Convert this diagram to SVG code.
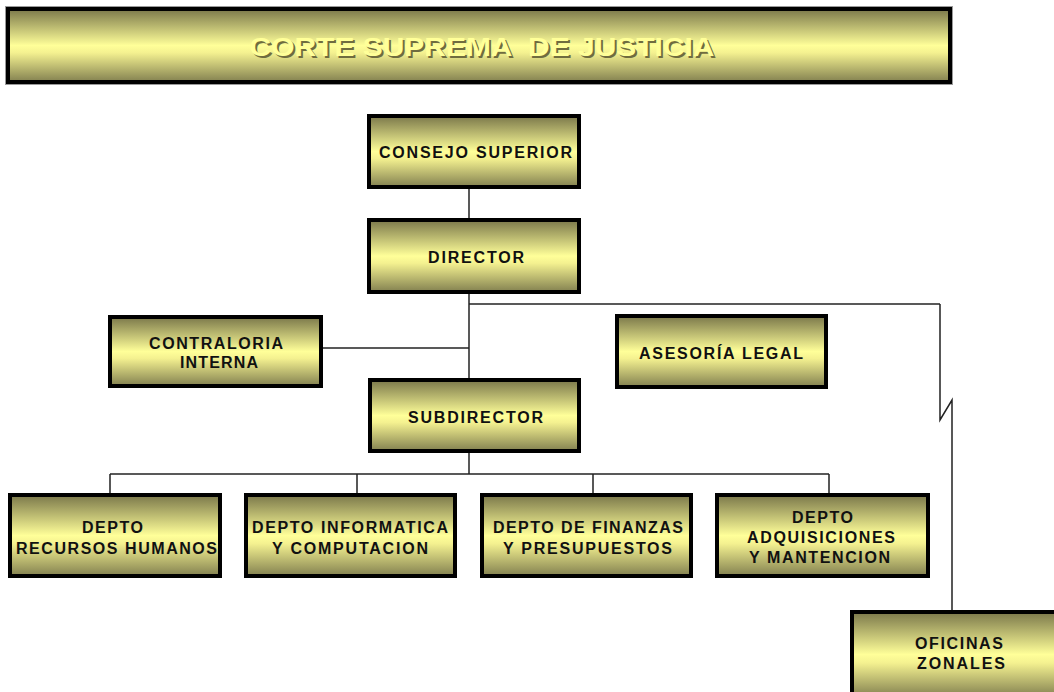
<svg xmlns="http://www.w3.org/2000/svg" width="1054" height="692" viewBox="0 0 1054 692">
  <defs>
    <linearGradient id="g" x1="0" y1="0" x2="0" y2="1">
      <stop offset="0" stop-color="#7a774a"/>
      <stop offset="0.5" stop-color="#ffff99"/>
      <stop offset="0.6" stop-color="#f4f190"/>
      <stop offset="1" stop-color="#828050"/>
    </linearGradient>
    <style>
      .box { fill: url(#g); stroke: #000; stroke-width: 4; }
      .edge { fill: none; stroke: #9a9a9a; stroke-width: 1; }
      .lbl { font-family: "Liberation Sans", Arial, sans-serif; font-weight: bold; font-size: 16px; fill: #111; text-anchor: middle; }
      .title { font-family: "Liberation Sans", Arial, sans-serif; font-weight: bold; font-size: 25px; text-anchor: middle; white-space: pre; }
      .conn { fill: none; stroke: #222; stroke-width: 1.5; }
    </style>
  </defs>
  <rect width="1054" height="692" fill="#fff"/>

  <g id="connectors">
    <path class="conn" d="M469,189 V218"/>
    <path class="conn" d="M469,294 V378"/>
    <path class="conn" d="M323,348 H469"/>
    <path class="conn" d="M469,304 H940"/>
    <path class="conn" d="M940,304 V420 L952,400 V610" stroke-width="2"/>
    <path class="conn" d="M469,453 V474"/>
    <path class="conn" d="M110,474 H829"/>
    <path class="conn" d="M110,474 V493 M357,474 V493 M593,474 V493 M829,474 V493"/>
  </g>

  <g id="corte-suprema">
    <rect class="edge" x="5.5" y="6.5" width="947" height="78"/>
    <rect class="box" x="8" y="9" width="942" height="73"/>
    <text class="title" x="484" y="58" fill="#6f6c3f" textLength="465" lengthAdjust="spacingAndGlyphs" xml:space="preserve">CORTE SUPREMA  DE JUSTICIA</text>
    <text class="title" x="482" y="56" fill="#ffff99" textLength="465" lengthAdjust="spacingAndGlyphs" xml:space="preserve">CORTE SUPREMA  DE JUSTICIA</text>
  </g>

  <g id="consejo-superior">
    <rect class="box" x="369" y="116" width="210" height="71"/>
    <text class="lbl" x="475.5" y="158" textLength="193" lengthAdjust="spacing">CONSEJO SUPERIOR</text>
  </g>

  <g id="director">
    <rect class="box" x="369" y="220" width="210" height="72"/>
    <text class="lbl" x="476" y="263" textLength="96" lengthAdjust="spacing">DIRECTOR</text>
  </g>

  <g id="contraloria-interna">
    <rect class="box" x="110" y="317" width="211" height="69"/>
    <text class="lbl" x="216" y="349" textLength="134" lengthAdjust="spacing">CONTRALORIA</text>
    <text class="lbl" x="219" y="368" textLength="78" lengthAdjust="spacing">INTERNA</text>
  </g>

  <g id="asesoria-legal">
    <rect class="box" x="617" y="316" width="209" height="71"/>
    <text class="lbl" x="721" y="359" textLength="164" lengthAdjust="spacing">ASESORÍA LEGAL</text>
  </g>

  <g id="subdirector">
    <rect class="box" x="370" y="380" width="209" height="71"/>
    <text class="lbl" x="475.5" y="423" textLength="135" lengthAdjust="spacing">SUBDIRECTOR</text>
  </g>

  <g id="depto-rrhh">
    <rect class="box" x="10" y="495" width="210" height="81"/>
    <text class="lbl" x="112.5" y="533" textLength="61" lengthAdjust="spacing">DEPTO</text>
    <text class="lbl" x="116.5" y="554" textLength="201" lengthAdjust="spacing">RECURSOS HUMANOS</text>
  </g>

  <g id="depto-informatica">
    <rect class="box" x="246" y="495" width="209" height="81"/>
    <text class="lbl" x="350" y="533" textLength="196" lengthAdjust="spacing">DEPTO INFORMATICA</text>
    <text class="lbl" x="350" y="554" textLength="156" lengthAdjust="spacing">Y COMPUTACION</text>
  </g>

  <g id="depto-finanzas">
    <rect class="box" x="482" y="495" width="209" height="81"/>
    <text class="lbl" x="588" y="533" textLength="190" lengthAdjust="spacing">DEPTO DE FINANZAS</text>
    <text class="lbl" x="587.5" y="554" textLength="169" lengthAdjust="spacing">Y PRESUPUESTOS</text>
  </g>

  <g id="depto-adquisiciones">
    <rect class="box" x="717" y="495" width="211" height="81"/>
    <text class="lbl" x="822.5" y="523" textLength="61" lengthAdjust="spacing">DEPTO</text>
    <text class="lbl" x="821" y="543" textLength="148" lengthAdjust="spacing">ADQUISICIONES</text>
    <text class="lbl" x="819.5" y="563" textLength="141" lengthAdjust="spacing">Y MANTENCION</text>
  </g>

  <g id="oficinas-zonales">
    <rect class="box" x="852" y="612" width="215" height="85"/>
    <text class="lbl" x="959" y="649" textLength="88" lengthAdjust="spacing">OFICINAS</text>
    <text class="lbl" x="961" y="669" textLength="88" lengthAdjust="spacing">ZONALES</text>
  </g>
</svg>
